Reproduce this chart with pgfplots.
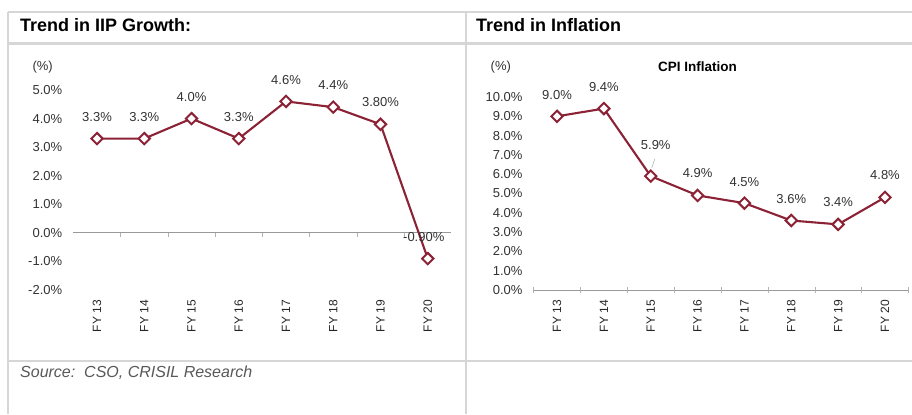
\documentclass[border=0pt]{standalone}
\usepackage{pgfplots}
\pgfplotsset{compat=1.18}
\usepackage{pgfplotstable}
\usepackage{fontspec}
\setmainfont{Liberation Sans}
\definecolor{maroon}{HTML}{8B2236}
\definecolor{frame}{HTML}{D6D6D6}
\newcommand{\tickfont}{\fontsize{13bp}{15bp}\selectfont}
\newcommand{\xfont}{\fontsize{12bp}{14bp}\selectfont}

\pgfplotstableread{
x y lab dy dx
0 3.3 3.3 21.5 0
1 3.3 3.3 21.5 0
2 4.0 4.0 21.5 0
3 3.3 3.3 21.5 0
4 4.6 4.6 21.5 0
5 4.4 4.4 22 0
6 3.8 3.80 22 0
7 -0.9 -0.90 21.5 -4
}\iip

\pgfplotstableread{
x y lab dy dx
0 9.0 9.0 21 0
1 9.4 9.4 21.5 0
2 5.9 5.9 31 5
3 4.9 4.9 22 0
4 4.5 4.5 21 0
5 3.6 3.6 21.5 0
6 3.4 3.4 22 0
7 4.8 4.8 22 0
}\cpi

\pgfplotsset{
  trend/.style={
    scale only axis,
    clip=false,
    axis line style={draw=none},
    major tick style={draw=none},
    /pgf/number format/assume math mode=true,
    xmin=-0.5, xmax=7.5,
    xtick={0,...,7},
    xticklabels={FY 13,FY 14,FY 15,FY 16,FY 17,FY 18,FY 19,FY 20},
    xticklabel style={rotate=90, anchor=east, inner xsep=10bp, inner ysep=0pt, font=\xfont, text=black!85},
    yticklabel style={anchor=east, inner xsep=11bp, inner ysep=0pt, font=\tickfont, text=black!80},
    yticklabel={\pgfmathprintnumber[fixed,fixed zerofill,precision=1]{\tick}\%},
  },
  trendline/.style={
    color=maroon, line width=2.1bp,
    mark=square*, mark size=4bp,
    mark options={fill=white, draw=maroon, line width=2bp, rotate=45},
    nodes near coords={\pgfplotspointmeta\%},
    point meta=explicit symbolic,
    visualization depends on={\thisrow{dy} \as \dy},
    visualization depends on={\thisrow{dx} \as \dx},
    nodes near coords style={anchor=center, inner sep=0pt, font=\tickfont, text=black!80, yshift=\dy*1bp, xshift=\dx*1bp},
  },
}

\begin{document}
\begin{tikzpicture}[x=1bp,y=1bp]
\fill[white] (0,0) rectangle (912,414);
\path[use as bounding box] (0,0) rectangle (912,414);
% table frame
\draw[frame, line width=1.5bp] (8,402) -- (912,402);
\draw[frame, line width=2bp] (8,370.5) -- (912,370.5);
\draw[frame, line width=1.5bp] (8,53) -- (912,53);
\draw[frame, line width=1.5bp] (8,402) -- (8,0);
\draw[frame, line width=1.5bp] (466,402) -- (466,0);
% titles
\node[anchor=west, font=\bfseries\fontsize{18bp}{21bp}\selectfont, inner sep=0pt] at (20,388.5) {Trend in IIP Growth:};
\node[anchor=west, font=\bfseries\fontsize{18bp}{21bp}\selectfont, inner sep=0pt] at (476,388.5) {Trend in Inflation};
\node[anchor=west, font=\itshape\fontsize{16bp}{19bp}\selectfont, inner sep=0pt, text=black!65] at (20,41) {Source:\ \ CSO, CRISIL Research};

% left chart
\begin{axis}[trend,
  at={(73.4bp,124bp)}, anchor=south west,
  width=378bp, height=200bp,
  ymin=-2, ymax=5, ytick={-2,...,5},
]
\draw[black!40, line width=0.8bp] (axis cs:-0.5,0) -- (axis cs:7.5,0);
\draw[black!30] (axis cs:0.5,0) -- ([yshift=-4bp]axis cs:0.5,0);
\draw[black!30] (axis cs:1.5,0) -- ([yshift=-4bp]axis cs:1.5,0);
\draw[black!30] (axis cs:2.5,0) -- ([yshift=-4bp]axis cs:2.5,0);
\draw[black!30] (axis cs:3.5,0) -- ([yshift=-4bp]axis cs:3.5,0);
\draw[black!30] (axis cs:4.5,0) -- ([yshift=-4bp]axis cs:4.5,0);
\draw[black!30] (axis cs:5.5,0) -- ([yshift=-4bp]axis cs:5.5,0);
\draw[black!30] (axis cs:6.5,0) -- ([yshift=-4bp]axis cs:6.5,0);
\addplot[trendline] table[x=x, y=y, meta=lab] {\iip};
\node[font=\tickfont, text=black!80] at (axis cs:-1.15,5.8) {(\%)};
\end{axis}

% right chart
\begin{axis}[trend,
  at={(533.6bp,124bp)}, anchor=south west,
  width=374.8bp, height=193bp,
  ymin=0, ymax=10, ytick={0,...,10},
]
\draw[black!40, line width=0.8bp] (axis cs:-0.5,0) -- (axis cs:7.5,0);
\draw[black!30] ([yshift=-3bp]axis cs:-0.5,0) -- ([yshift=3bp]axis cs:-0.5,0);
\draw[black!30] ([yshift=-3bp]axis cs:0.5,0) -- ([yshift=3bp]axis cs:0.5,0);
\draw[black!30] ([yshift=-3bp]axis cs:1.5,0) -- ([yshift=3bp]axis cs:1.5,0);
\draw[black!30] ([yshift=-3bp]axis cs:2.5,0) -- ([yshift=3bp]axis cs:2.5,0);
\draw[black!30] ([yshift=-3bp]axis cs:3.5,0) -- ([yshift=3bp]axis cs:3.5,0);
\draw[black!30] ([yshift=-3bp]axis cs:4.5,0) -- ([yshift=3bp]axis cs:4.5,0);
\draw[black!30] ([yshift=-3bp]axis cs:5.5,0) -- ([yshift=3bp]axis cs:5.5,0);
\draw[black!30] ([yshift=-3bp]axis cs:6.5,0) -- ([yshift=3bp]axis cs:6.5,0);
\draw[black!30] ([yshift=-3bp]axis cs:7.5,0) -- ([yshift=3bp]axis cs:7.5,0);
\draw[black!40] ([xshift=1bp,yshift=8bp]axis cs:2,5.9) -- ([xshift=4bp,yshift=17bp]axis cs:2,5.9);
\addplot[trendline] table[x=x, y=y, meta=lab] {\cpi};
\node[font=\tickfont, text=black!80] at (axis cs:-1.2,11.55) {(\%)};
\node[font=\bfseries\fontsize{13.5bp}{16bp}\selectfont] at (axis cs:3,11.55) {CPI Inflation};
\end{axis}
\end{tikzpicture}
\end{document}
